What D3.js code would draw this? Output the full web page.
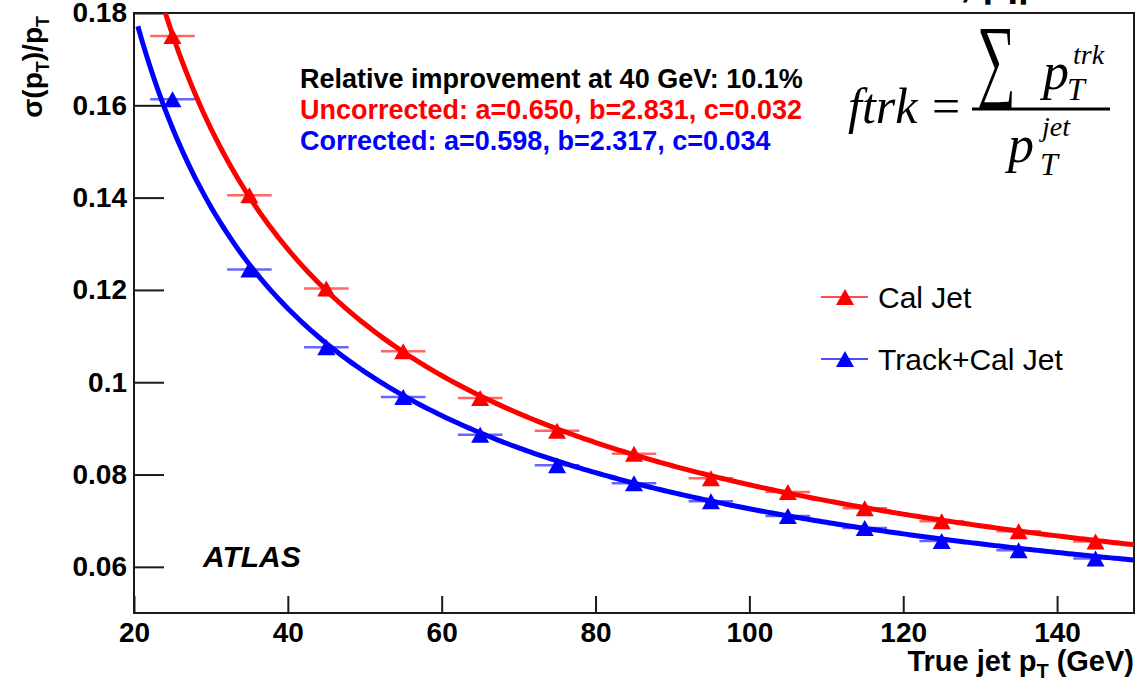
<!DOCTYPE html>
<html><head><meta charset="utf-8">
<script src="https://cdn.jsdelivr.net/npm/d3@7"></script>
<style>body{margin:0;background:#fff} svg{display:block}</style>
</head><body><svg id="c" width="1141" height="682"></svg>
<script>
// ---------------- data ----------------
const binCenters   = [25, 35, 45, 55, 65, 75, 85, 95, 105, 115, 125, 135, 145];
const calJet       = [0.1750, 0.1405, 0.1203, 0.1067, 0.0966, 0.0895, 0.0845, 0.0792, 0.0762, 0.0727, 0.0699, 0.0677, 0.0655];
const trackCalJet  = [0.1613, 0.1244, 0.1076, 0.0968, 0.0886, 0.0820, 0.0781, 0.0742, 0.0710, 0.0684, 0.0656, 0.0636, 0.0618];
const xErr         = [2.9, 2.9, 2.9, 2.9, 2.9, 2.9, 2.9, 2.9, 2.9, 2.9, 2.9, 2.9, 2.9];
const seriesNames  = ["Cal Jet", "Track+Cal Jet"];
const fitUncorrected = [0.650, 2.831, 0.032];   // a, b, c
const fitCorrected   = [0.598, 2.317, 0.034];
const fitRange       = [20.5, 150];
const xMajorTicks  = [20, 40, 60, 80, 100, 120, 140];
const yMajorTicks  = [0.06, 0.08, 0.1, 0.12, 0.14, 0.16, 0.18];
const infoLines    = ["Relative improvement at 40 GeV: 10.1%",
                      "Uncorrected: a=0.650, b=2.831, c=0.032",
                      "Corrected: a=0.598, b=2.317, c=0.034"];
const xTitle = "True jet p";
const yTitle = "σ(p";
const expLabel = "ATLAS";

// ---------------- layout ----------------
const RED = "#ff0000", BLUE = "#0000ff";
const SANS = "'Liberation Sans', Arial, Helvetica, sans-serif";
const SERIF = "'Liberation Serif', 'Times New Roman', serif";
const svg = d3.select("#c");
const x = d3.scaleLinear().domain([20, 150]).range([134, 1134]);
const y = d3.scaleLinear().domain([0.05, 0.18]).range([613, 13]);

const xMinor = d3.range(20, 150.001, 5);
const yMinor = d3.range(0.05, 0.18001, 0.005);

const axisCol = "#1a1a1a";
const gx = svg.append("g").attr("transform", `translate(0,${y.range()[0]})`);
gx.call(d3.axisBottom(x).tickValues(xMinor).tickSize(-9).tickFormat(""));
gx.call(d3.axisBottom(x).tickValues(xMajorTicks).tickSize(-17).tickPadding(9).tickFormat(d => d));
gx.selectAll(".domain").remove();
gx.selectAll(".tick line").attr("stroke", axisCol).attr("stroke-width", 2);
gx.selectAll(".tick text").attr("font-family", SANS).attr("font-weight", "bold")
  .attr("font-size", 28).attr("fill", "#000");

const gy = svg.append("g").attr("transform", `translate(${x.range()[0]},0)`);
gy.call(d3.axisLeft(y).tickValues(yMinor).tickSize(-16).tickFormat(""));
gy.call(d3.axisLeft(y).tickValues(yMajorTicks).tickSize(-30).tickPadding(7).tickFormat(d => String(+d.toFixed(3))));
gy.selectAll(".domain").remove();
gy.selectAll(".tick line").attr("stroke", axisCol).attr("stroke-width", 2);
gy.selectAll(".tick text").attr("font-family", SANS).attr("font-weight", "bold")
  .attr("font-size", 28).attr("fill", "#000");

// frame
svg.append("rect")
  .attr("x", x.range()[0]).attr("y", y.range()[1])
  .attr("width", x.range()[1] - x.range()[0]).attr("height", y.range()[0] - y.range()[1])
  .attr("fill", "none").attr("stroke", axisCol).attr("stroke-width", 2);

// clip
svg.append("clipPath").attr("id", "plotclip").append("rect")
  .attr("x", x.range()[0]).attr("y", y.range()[1])
  .attr("width", x.range()[1] - x.range()[0]).attr("height", y.range()[0] - y.range()[1]);
const plot = svg.append("g").attr("clip-path", "url(#plotclip)");

// fit curves: sigma/pT = sqrt(a^2/pT + b^2/pT^2 + c^2) with the fitted parameters shown on the plot
function resol(p) { return v => Math.sqrt(p[0]*p[0]/v + (p[1]/v)*(p[1]/v) + p[2]*p[2]); }
const line = d3.line().x(d => x(d[0])).y(d => y(d[1]));
const xs = d3.range(fitRange[0], fitRange[1] + 0.001, 0.5);
[[fitUncorrected, RED], [fitCorrected, BLUE]].forEach(([p, col]) => {
  const f = resol(p);
  plot.append("path").datum(xs.map(v => [v, f(v)]))
    .attr("d", line).attr("fill", "none").attr("stroke", col).attr("stroke-width", 5)
    .attr("stroke-linejoin", "round");
});

// markers and error bars
const tri = "M-9,8L9,8L0,-8Z";
[[calJet, RED], [trackCalJet, BLUE]].forEach(([vals, col]) => {
  const g = plot.append("g");
  g.selectAll("line").data(vals).join("line")
    .attr("x1", (d, i) => x(binCenters[i] - xErr[i])).attr("x2", (d, i) => x(binCenters[i] + xErr[i]))
    .attr("y1", d => y(d)).attr("y2", d => y(d))
    .attr("stroke", col).attr("stroke-opacity", 0.6).attr("stroke-width", 2.5);
  g.selectAll("path").data(vals).join("path")
    .attr("d", tri).attr("transform", (d, i) => `translate(${x(binCenters[i])},${y(d)})`)
    .attr("fill", col);
});

// info text
const info = svg.append("g").attr("font-family", SANS).attr("font-weight", "bold").attr("font-size", 27);
infoLines.forEach((t, i) => {
  info.append("text").attr("x", 300).attr("y", 88 + i * 31).attr("fill", ["#000", RED, BLUE][i]).text(t);
});

// legend
const leg = svg.append("g");
seriesNames.forEach((n, i) => {
  const cy = 297 + i * 62, col = [RED, BLUE][i];
  leg.append("line").attr("x1", 821).attr("x2", 868).attr("y1", cy).attr("y2", cy)
    .attr("stroke", col).attr("stroke-opacity", 0.7).attr("stroke-width", 2);
  leg.append("path").attr("d", tri).attr("transform", `translate(845,${cy})`).attr("fill", col);
  leg.append("text").attr("x", 878).attr("y", cy + 11).attr("font-family", SANS)
    .attr("font-size", 30).attr("fill", "#000").text(n);
});

// ATLAS
svg.append("text").attr("x", 203).attr("y", 567).attr("font-family", SANS)
  .attr("font-weight", "bold").attr("font-style", "italic").attr("font-size", 30).text(expLabel);

// axis titles
const xt = svg.append("text").attr("x", 1134).attr("y", 671).attr("text-anchor", "end")
  .attr("font-family", SANS).attr("font-weight", "bold").attr("font-size", 29);
xt.append("tspan").text(xTitle);
xt.append("tspan").attr("font-size", 20).attr("dy", 7).text("T");
xt.append("tspan").attr("dy", -7).text(" (GeV)");

const yt = svg.append("text").attr("transform", "translate(42,16) rotate(-90)").attr("text-anchor", "end")
  .attr("font-family", SANS).attr("font-weight", "bold").attr("font-size", 28);
yt.append("tspan").text(yTitle);
yt.append("tspan").attr("font-size", 18).attr("dy", 7).text("T");
yt.append("tspan").attr("dy", -7).text(")/p");
yt.append("tspan").attr("font-size", 18).attr("dy", 7).text("T");

// formula
const fm = svg.append("g").attr("font-family", SERIF).attr("fill", "#000");
fm.append("text").attr("x", 848).attr("y", 123).attr("font-size", 50).attr("font-style", "italic").text("ftrk");
fm.append("text").attr("x", 932).attr("y", 123).attr("font-size", 50).text("=");
fm.append("text").attr("transform", "translate(977,90) scale(0.85,1.45)").attr("font-size", 64).text("∑");
fm.append("text").attr("x", 1043).attr("y", 89).attr("font-size", 52).attr("font-style", "italic").text("p");
fm.append("text").attr("x", 1073).attr("y", 64).attr("font-size", 28).attr("font-style", "italic").text("trk");
fm.append("text").attr("x", 1067).attr("y", 100).attr("font-size", 32).attr("font-style", "italic").text("T");
fm.append("line").attr("x1", 972).attr("x2", 1110).attr("y1", 109).attr("y2", 109).attr("stroke", "#000").attr("stroke-width", 3);
fm.append("text").attr("x", 1008).attr("y", 162).attr("font-size", 52).attr("font-style", "italic").text("p");
fm.append("text").attr("x", 1042).attr("y", 136).attr("font-size", 28).attr("font-style", "italic").text("jet");
fm.append("text").attr("x", 1040).attr("y", 175).attr("font-size", 32).attr("font-style", "italic").text("T");

// cut-off title remnant at top
svg.append("text").attr("x", 960).attr("y", -4).attr("font-family", SANS).attr("font-weight", "bold")
  .attr("font-size", 40).text(", |η|");
</script></body></html>
